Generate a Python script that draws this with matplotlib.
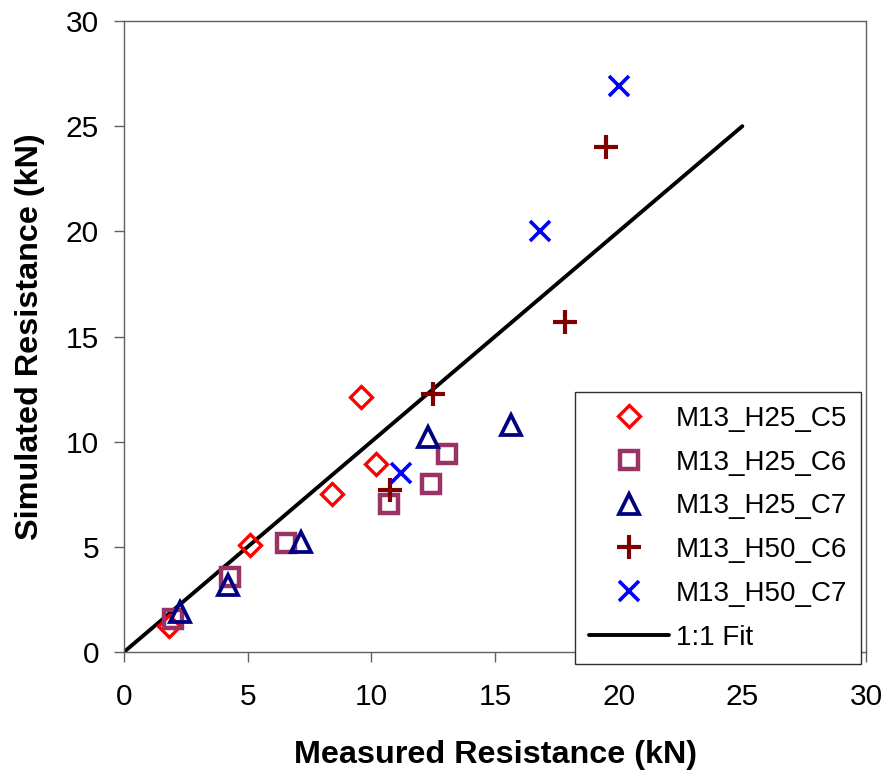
import matplotlib
matplotlib.use("Agg")
import matplotlib.pyplot as plt

plt.rcParams['font.family'] = ['Liberation Sans', 'DejaVu Sans']

# Data (kN)
c5_measured = [1.8, 5.1, 8.4, 10.2, 9.6]
c5_simulated = [1.25, 5.1, 7.5, 8.95, 12.1]

h25c6_measured = [2.0, 4.3, 6.55, 10.7, 12.4, 13.05]
h25c6_simulated = [1.55, 3.55, 5.2, 7.05, 8.0, 9.4]

h25c7_measured = [2.25, 4.2, 7.15, 12.3, 15.65]
h25c7_simulated = [1.9, 3.2, 5.25, 10.2, 10.8]

h50c6_measured = [10.75, 12.5, 17.85, 19.5]
h50c6_simulated = [7.7, 12.25, 15.7, 24.0]

h50c7_measured = [11.2, 16.8, 20.0]
h50c7_simulated = [8.5, 20.0, 26.9]

fit_x = [0, 25]
fit_y = [0, 25]

series_labels = ["M13_H25_C5", "M13_H25_C6", "M13_H25_C7", "M13_H50_C6", "M13_H50_C7"]
fit_label = "1:1 Fit"
ticks = [0, 5, 10, 15, 20, 25, 30]

fig = plt.figure(figsize=(8.91, 7.80), dpi=100)
ax = fig.add_axes([124/891, 1 - 652/780, 742/891, 631/780])

ax.plot(c5_measured, c5_simulated, linestyle='none', marker='D', ms=11.0,
        mfc='none', mec='#FF0000', mew=2.4, label=series_labels[0], zorder=3)
ax.plot(h25c6_measured, h25c6_simulated, linestyle='none', marker='s', ms=13.5,
        mfc='none', mec='#993366', mew=3.2, label=series_labels[1], zorder=3)
ax.plot(h25c7_measured, h25c7_simulated, linestyle='none', marker='^', ms=14.5,
        mfc='none', mec='#000080', mew=2.7, label=series_labels[2], zorder=3)
ax.plot(h50c6_measured, h50c6_simulated, linestyle='none', marker='+', ms=17,
        mec='#800000', mew=3.0, label=series_labels[3], zorder=3)
ax.plot(h50c7_measured, h50c7_simulated, linestyle='none', marker='x', ms=15,
        mec='#0000FF', mew=2.6, label=series_labels[4], zorder=3)
ax.plot(fit_x, fit_y, color='black', lw=2.8, label=fit_label, zorder=2,
        solid_capstyle='round')

ax.set_xlim(0, 30)
ax.set_ylim(0, 30)
ax.set_xticks(ticks)
ax.set_yticks(ticks)
for s in ax.spines.values():
    s.set_color('#606060')
    s.set_linewidth(1.0)
ax.tick_params(axis='both', direction='out', length=7, width=1.0,
               color='#606060', labelsize=21.5, labelcolor='black')
ax.tick_params(axis='x', pad=15)
ax.tick_params(axis='y', pad=11)

ax.set_xlabel("Measured Resistance (kN)", fontsize=23.3, fontweight='bold')
ax.set_ylabel("Simulated Resistance (kN)", fontsize=23.3, fontweight='bold')
ax.xaxis.set_label_coords(0.5, -0.14)
ax.yaxis.set_label_coords(-0.106, 0.5)

leg = ax.legend(loc='lower right', bbox_to_anchor=(0.993, -0.019),
                borderaxespad=0, fontsize=20, frameon=True, fancybox=False,
                edgecolor='#303030', framealpha=1, labelspacing=0.64,
                handlelength=2.9, handletextpad=0.25, borderpad=0.48)
leg.get_frame().set_linewidth(1.0)
leg.set_zorder(5)

fig.savefig("out.png", dpi=100, facecolor='white')
